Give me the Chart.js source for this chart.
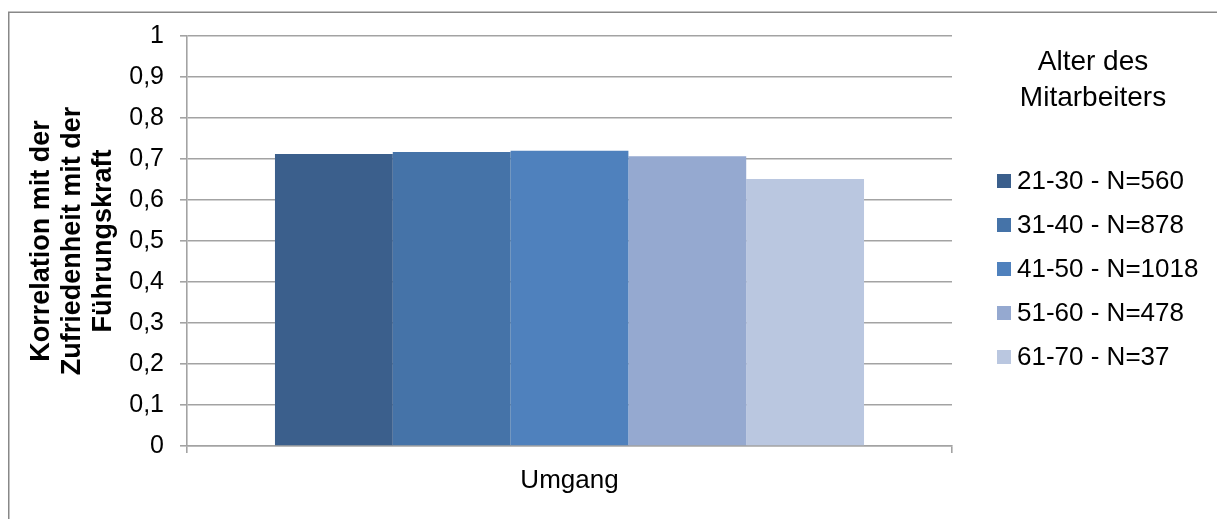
<!DOCTYPE html>
<html lang="de">
<head>
<meta charset="utf-8">
<title>Korrelation nach Alter des Mitarbeiters</title>
<script src="https://cdn.jsdelivr.net/npm/chart.js@4/dist/chart.umd.min.js"></script>
<style>
  html, body { margin: 0; padding: 0; background: #ffffff; }
  #wrap { position: relative; width: 1217px; height: 519px; }
</style>
</head>
<body>
<div id="wrap"><canvas id="chart" width="1217" height="519"></canvas></div>
<script>
// Categories and series
const categories = ['Umgang'];
const seriesLabels = ['21-30 - N=560', '31-40 - N=878', '41-50 - N=1018', '51-60 - N=478', '61-70 - N=37'];
const series2130 = [0.712];
const series3140 = [0.717];
const series4150 = [0.720];
const series5160 = [0.707];
const series6170 = [0.651];
const seriesColors = ['#3b5f8c', '#4573a8', '#4f81bd', '#95a9d0', '#bac7e0'];
const yTickLabels = ['0', '0,1', '0,2', '0,3', '0,4', '0,5', '0,6', '0,7', '0,8', '0,9', '1'];
const yTitleLines = ['Korrelation mit der', 'Zufriedenheit mit der', 'Führungskraft'];
const legendTitleLines = ['Alter des', 'Mitarbeiters'];

const allSeries = [series2130, series3140, series4150, series5160, series6170];
const FONT = "'Liberation Sans', Arial, Helvetica, sans-serif";
const GRID = '#a3a3a3';

// Frame line along the top and left edge of the figure
const framePlugin = {
  id: 'frame',
  beforeDraw(chart) {
    const ctx = chart.ctx;
    ctx.save();
    ctx.strokeStyle = '#888888';
    ctx.lineWidth = 1.5;
    ctx.beginPath();
    ctx.moveTo(8.75, chart.height + 2);
    ctx.lineTo(8.75, 12.25);
    ctx.lineTo(chart.width + 2, 12.25);
    ctx.stroke();
    ctx.restore();
  }
};

// Legend on the right: title plus one square marker per series
const sideLegend = {
  id: 'sideLegend',
  afterDraw(chart) {
    const ctx = chart.ctx;
    ctx.save();
    ctx.fillStyle = '#000000';
    ctx.textBaseline = 'middle';
    ctx.textAlign = 'center';
    ctx.font = '28px ' + FONT;
    legendTitleLines.forEach((t, i) => ctx.fillText(t, 1093, 62 + i * 36));
    ctx.textAlign = 'left';
    ctx.font = '26px ' + FONT;
    chart.data.datasets.forEach((ds, i) => {
      const y = 181 + i * 44;
      ctx.fillStyle = ds.backgroundColor;
      ctx.fillRect(997, y - 7, 14, 14);
      ctx.fillStyle = '#000000';
      ctx.fillText(ds.label, 1017, y + 1);
    });
    ctx.restore();
  }
};

new Chart(document.getElementById('chart'), {
  type: 'bar',
  data: {
    labels: categories,
    datasets: seriesLabels.map((label, i) => ({
      label: label,
      data: allSeries[i],
      backgroundColor: seriesColors[i],
      borderWidth: 0,
      barPercentage: 1.0,
      categoryPercentage: 0.77
    }))
  },
  options: {
    responsive: false,
    animation: false,
    devicePixelRatio: 1,
    layout: { padding: { left: 0, top: 36, right: 265, bottom: 0 } },
    plugins: {
      legend: { display: false },
      tooltip: { enabled: false }
    },
    scales: {
      x: {
        offset: true,
        afterFit(scale) { scale.height = 73; },
        grid: {
          offset: true,
          drawOnChartArea: false,
          drawTicks: true,
          tickLength: 7,
          color: GRID,
          lineWidth: 1.6
        },
        border: { display: true, color: GRID, width: 1.6 },
        ticks: {
          color: '#000000',
          padding: 12,
          font: { family: FONT, size: 26 }
        }
      },
      y: {
        min: 0,
        max: 1,
        afterFit(scale) { scale.width = 187; },
        grid: {
          color: GRID,
          lineWidth: 1.6,
          tickLength: 7,
          drawTicks: true
        },
        border: { display: true, color: GRID, width: 1.6 },
        ticks: {
          stepSize: 0.1,
          color: '#000000',
          padding: 16,
          font: { family: FONT, size: 25 },
          callback: (value, index) => yTickLabels[index]
        },
        title: {
          display: true,
          text: yTitleLines,
          color: '#000000',
          padding: { top: 26, bottom: 0 },
          font: { family: FONT, size: 27, weight: 'bold', lineHeight: 1.15 }
        }
      }
    }
  },
  plugins: [framePlugin, sideLegend]
});
</script>
</body>
</html>
